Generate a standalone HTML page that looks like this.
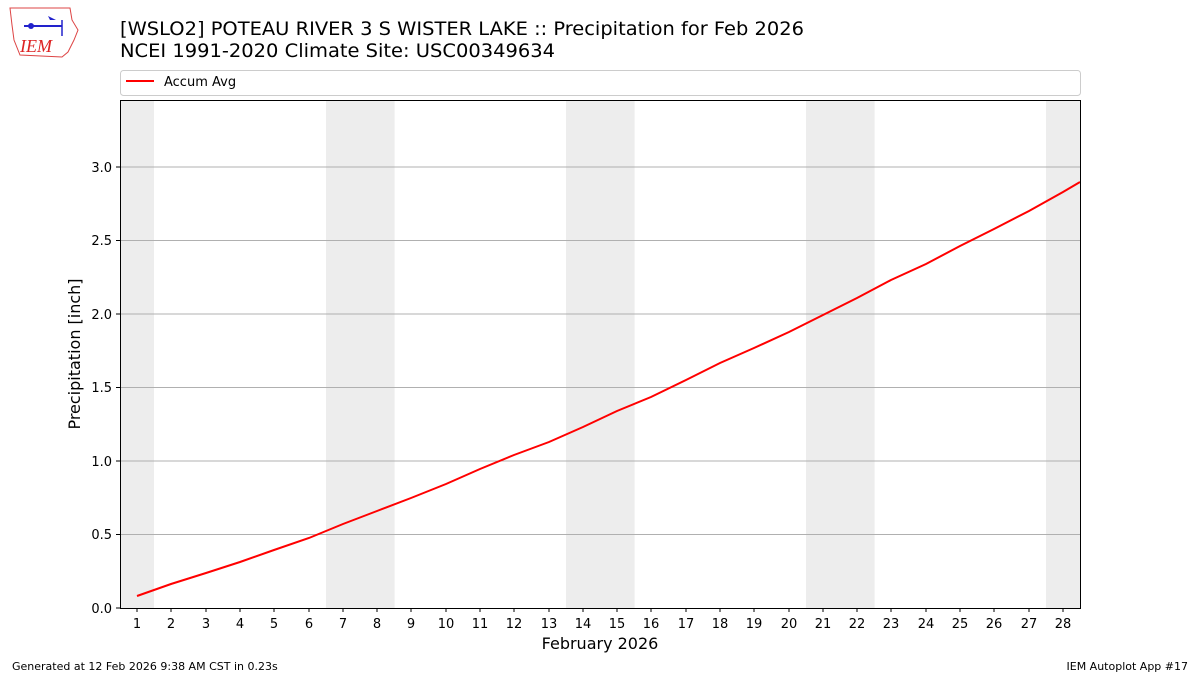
<!DOCTYPE html>
<html><head><meta charset="utf-8"><style>
body{margin:0;background:#fff;width:1200px;height:675px;overflow:hidden;font-family:"DejaVu Sans","Liberation Sans",sans-serif}
</style></head><body>
<svg width="1200" height="675" xmlns="http://www.w3.org/2000/svg" font-family="DejaVu Sans, Liberation Sans, sans-serif">
<rect width="1200" height="675" fill="#fff"/>
<path d="M10 8 L70 8 L72 20 L78 30 L74 40 L68 52 L62 57 L20 55 L14 40 L12 25 Z" fill="none" stroke="#d44" stroke-width="1"/>
<line x1="24" y1="26" x2="62" y2="26" stroke="#22c" stroke-width="2"/>
<circle cx="31" cy="26" r="3" fill="#22c"/>
<path d="M48 16 L56 20 L50 20 Z" fill="#22c"/>
<line x1="62" y1="20" x2="62" y2="36" stroke="#22c" stroke-width="1.5"/>
<text x="20" y="52" font-family="Liberation Serif,serif" font-style="italic" font-size="18" fill="#d22">IEM</text>
<text x="120" y="35" font-size="19" textLength="684" lengthAdjust="spacingAndGlyphs" fill="#000">[WSLO2] POTEAU RIVER 3 S WISTER LAKE :: Precipitation for Feb 2026</text>
<text x="120" y="57" font-size="19" textLength="435" lengthAdjust="spacingAndGlyphs" fill="#000">NCEI 1991-2020 Climate Site: USC00349634</text>
<rect x="120.5" y="70.5" width="960" height="25" rx="3" fill="#fff" stroke="#ccc"/>
<line x1="126" y1="81" x2="154" y2="81" stroke="red" stroke-width="2"/>
<text x="164" y="86" font-size="13">Accum Avg</text>
<g fill="#ededed">
<rect x="120" y="100" width="34" height="508"/>
<rect x="326" y="100" width="68.6" height="508"/>
<rect x="566" y="100" width="68.6" height="508"/>
<rect x="806" y="100" width="68.6" height="508"/>
<rect x="1046" y="100" width="34" height="508"/>
</g>
<g stroke="#b0b0b0" stroke-width="1">
<line x1="120" x2="1080" y1="534.5" y2="534.5"/>
<line x1="120" x2="1080" y1="461" y2="461"/>
<line x1="120" x2="1080" y1="387.5" y2="387.5"/>
<line x1="120" x2="1080" y1="314" y2="314"/>
<line x1="120" x2="1080" y1="240.5" y2="240.5"/>
<line x1="120" x2="1080" y1="167" y2="167"/>
</g>
<polyline fill="none" stroke="red" stroke-width="2" points="137,596 171,584 206,573 240,562 274,550 309,538 343,524 377,511 411,498 446,484 480,469 514,455 549,442 583,427 617,411 651,397 686,380 720,363 754,348 789,332 823,315 857,298 891,280 926,264 960,246 994,229 1029,211 1063,192 1080,182"/>
<rect x="120.5" y="100.5" width="960" height="508" fill="none" stroke="#000"/>
<g font-size="13" text-anchor="end">
<g stroke="#000"><line x1="116" x2="120" y1="608" y2="608"/><line x1="116" x2="120" y1="534.5" y2="534.5"/><line x1="116" x2="120" y1="461" y2="461"/><line x1="116" x2="120" y1="387.5" y2="387.5"/><line x1="116" x2="120" y1="314" y2="314"/><line x1="116" x2="120" y1="240.5" y2="240.5"/><line x1="116" x2="120" y1="167" y2="167"/></g>
<text x="112" y="613">0.0</text><text x="112" y="539">0.5</text><text x="112" y="466">1.0</text><text x="112" y="392">1.5</text><text x="112" y="319">2.0</text><text x="112" y="245">2.5</text><text x="112" y="172">3.0</text>
</g>
<text transform="translate(80,354) rotate(-90)" font-size="16" text-anchor="middle">Precipitation [inch]</text>
<g font-size="13" text-anchor="middle">
<text x="137" y="628">1</text><text x="171" y="628">2</text><text x="206" y="628">3</text><text x="240" y="628">4</text><text x="274" y="628">5</text><text x="309" y="628">6</text><text x="343" y="628">7</text><text x="377" y="628">8</text><text x="411" y="628">9</text><text x="446" y="628">10</text><text x="480" y="628">11</text><text x="514" y="628">12</text><text x="549" y="628">13</text><text x="583" y="628">14</text><text x="617" y="628">15</text><text x="651" y="628">16</text><text x="686" y="628">17</text><text x="720" y="628">18</text><text x="754" y="628">19</text><text x="789" y="628">20</text><text x="823" y="628">21</text><text x="857" y="628">22</text><text x="891" y="628">23</text><text x="926" y="628">24</text><text x="960" y="628">25</text><text x="994" y="628">26</text><text x="1029" y="628">27</text><text x="1063" y="628">28</text>
</g>
<g stroke="#000">
<path d="M137 608v4M171 608v4M206 608v4M240 608v4M274 608v4M309 608v4M343 608v4M377 608v4M411 608v4M446 608v4M480 608v4M514 608v4M549 608v4M583 608v4M617 608v4M651 608v4M686 608v4M720 608v4M754 608v4M789 608v4M823 608v4M857 608v4M891 608v4M926 608v4M960 608v4M994 608v4M1029 608v4M1063 608v4"/>
</g>
<text x="600" y="649" font-size="16" text-anchor="middle">February 2026</text>
<text x="12" y="670" font-size="11">Generated at 12 Feb 2026 9:38 AM CST in 0.23s</text>
<text x="1188" y="670" font-size="11" text-anchor="end">IEM Autoplot App #17</text>
</svg>
</body></html>
